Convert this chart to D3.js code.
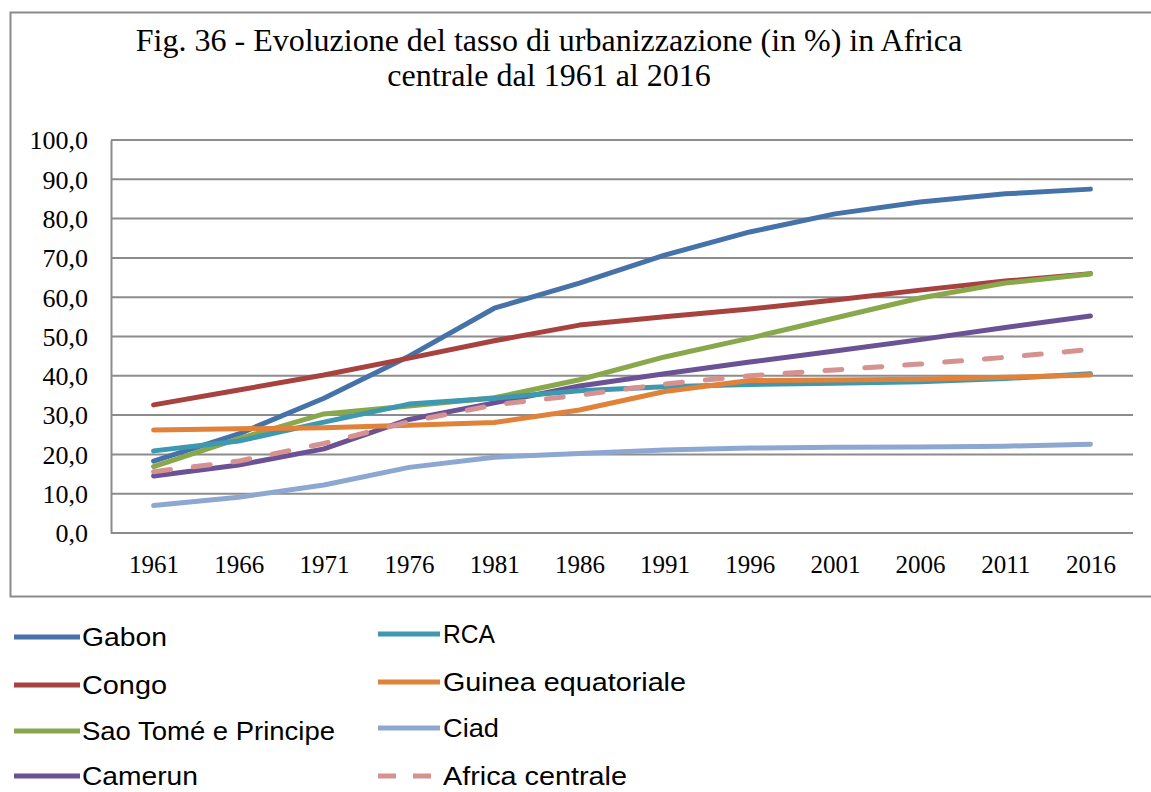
<!DOCTYPE html>
<html>
<head>
<meta charset="utf-8">
<script src="https://cdn.jsdelivr.net/npm/d3@7"></script>
<style>
  html, body { margin: 0; padding: 0; background: #fff; }
  svg { display: block; }
</style>
</head>
<body>
<svg id="chart" width="1151" height="792"></svg>
<script>
// Years on the category axis
const years = ["1961","1966","1971","1976","1981","1986","1991","1996","2001","2006","2011","2016"];

// Urbanisation rate (%) per country
const gabon        = [18.3, 25.2, 34.3, 45.0, 57.2, 63.6, 70.7, 76.6, 81.2, 84.2, 86.3, 87.5];
const congo        = [32.6, 36.4, 40.2, 44.5, 48.9, 52.9, 55.0, 57.0, 59.3, 61.8, 64.1, 66.0];
const saoTome      = [16.9, 24.0, 30.3, 32.3, 34.4, 39.0, 44.8, 49.6, 54.7, 59.8, 63.6, 65.9];
const camerun      = [14.5, 17.3, 21.4, 28.9, 33.1, 37.4, 40.5, 43.5, 46.3, 49.2, 52.3, 55.2];
const rca          = [20.9, 23.4, 28.2, 32.8, 34.3, 36.2, 37.2, 37.8, 38.1, 38.5, 39.3, 40.5];
const guineaEq     = [26.2, 26.5, 26.8, 27.4, 28.1, 31.3, 36.0, 38.8, 38.9, 39.1, 39.6, 40.2];
const ciad         = [7.0, 9.1, 12.2, 16.7, 19.3, 20.2, 21.1, 21.6, 21.8, 21.9, 22.1, 22.6];
const africaCentr  = [15.6, 18.3, 22.8, 28.3, 32.6, 35.1, 37.9, 40.0, 41.5, 43.0, 44.7, 46.7];

// Value-axis tick labels
const yTicks = [0, 10, 20, 30, 40, 50, 60, 70, 80, 90, 100];

const seriesNames  = ["Gabon", "Congo", "Sao Tomé e Principe", "Camerun", "RCA", "Guinea equatoriale", "Ciad", "Africa centrale"];
const seriesValues = [gabon, congo, saoTome, camerun, rca, guineaEq, ciad, africaCentr];
const seriesColors = ["#4672AA", "#A8423F", "#88A84B", "#6B5294", "#3D98B0", "#E0823A", "#8DA7D1", "#D69191"];

const series = seriesNames.map((name, i) => ({
  name,
  color: seriesColors[i],
  dashed: name === "Africa centrale",
  values: seriesValues[i]
}));

const svg = d3.select("#chart");

// Outer chart frame
svg.append("rect")
  .attr("x", 10.5).attr("y", 12.5)
  .attr("width", 1150).attr("height", 584)
  .attr("fill", "#fff")
  .attr("stroke", "#8a8a8a")
  .attr("stroke-width", 2);

// Title (two centred lines)
const title = svg.append("text")
  .attr("font-family", "'Liberation Serif', 'Times New Roman', serif")
  .attr("font-size", 32)
  .attr("fill", "#000")
  .attr("text-anchor", "middle");
title.append("tspan").attr("x", 549).attr("y", 51)
  .text("Fig. 36 - Evoluzione del tasso di urbanizzazione (in %) in Africa");
title.append("tspan").attr("x", 549).attr("y", 86)
  .text("centrale dal 1961 al 2016");

// Plot area
const plotLeft = 111, plotRight = 1133, plotTop = 140, plotBottom = 533;

const x = d3.scalePoint().domain(years).range([plotLeft, plotRight]).padding(0.5);
const y = d3.scaleLinear().domain([0, 100]).range([plotBottom, plotTop]);

// Horizontal gridlines
svg.append("g")
  .selectAll("line")
  .data(yTicks)
  .join("line")
  .attr("x1", plotLeft).attr("x2", plotRight)
  .attr("y1", d => y(d)).attr("y2", d => y(d))
  .attr("stroke", "#8c8c8c")
  .attr("stroke-width", 2);

// Value axis
const yAxis = svg.append("g")
  .attr("transform", `translate(${plotLeft},0)`)
  .call(d3.axisLeft(y).tickValues(yTicks).tickSize(0).tickPadding(23)
    .tickFormat(d => d3.format(".1f")(d).replace(".", ",")));
yAxis.select(".domain").attr("stroke", "#8c8c8c").attr("stroke-width", 2);
yAxis.selectAll("text")
  .attr("font-family", "'Liberation Serif', 'Times New Roman', serif")
  .attr("font-size", 26)
  .attr("fill", "#000")
  .attr("dy", "0.34em");

// Category axis labels
const xAxis = svg.append("g")
  .attr("transform", `translate(0,${plotBottom})`)
  .call(d3.axisBottom(x).tickSize(0).tickPadding(22));
xAxis.select(".domain").remove();
xAxis.selectAll("text")
  .attr("font-family", "'Liberation Serif', 'Times New Roman', serif")
  .attr("font-size", 25)
  .attr("fill", "#000")
  .attr("dy", "0.71em");

// Series lines
const line = d3.line()
  .x((d, i) => x(years[i]))
  .y(d => y(d));

svg.append("g")
  .selectAll("path")
  .data(series)
  .join("path")
  .attr("d", d => line(d.values))
  .attr("fill", "none")
  .attr("stroke", d => d.color)
  .attr("stroke-width", 5)
  .attr("stroke-linecap", "round")
  .attr("stroke-linejoin", "round")
  .attr("stroke-dasharray", d => d.dashed ? "17,23" : null);

// Legend, two columns below the frame
const legendCols = [
  { lineX1: 14, lineX2: 80, textX: 82 },
  { lineX1: 378, lineX2: 440, textX: 443 }
];
const legendRows = [637, 685, 731, 776];
const legendWidths = [85, 85, 253, 116, 52, 243, 56, 184];

const legend = svg.append("g")
  .selectAll("g")
  .data(series)
  .join("g")
  .attr("transform", (d, i) => {
    const row = i % 4;
    return `translate(0,${legendRows[row] - (i >= 4 && row < 3 ? 3 : 0)})`;
  });

legend.append("line")
  .attr("x1", (d, i) => legendCols[Math.floor(i / 4)].lineX1)
  .attr("x2", (d, i) => legendCols[Math.floor(i / 4)].lineX2)
  .attr("y1", 0).attr("y2", 0)
  .attr("stroke", d => d.color)
  .attr("stroke-width", 5)
  .attr("stroke-dasharray", d => d.dashed ? "18,17" : null);

legend.append("text")
  .attr("x", (d, i) => legendCols[Math.floor(i / 4)].textX)
  .attr("y", 0)
  .attr("dy", "0.36em")
  .attr("font-family", "'Liberation Sans Narrow', 'Liberation Sans', sans-serif")
  .attr("font-size", 26)
  .attr("fill", "#000")
  .attr("textLength", (d, i) => legendWidths[i])
  .attr("lengthAdjust", "spacingAndGlyphs")
  .text(d => d.name);
</script>
</body>
</html>
